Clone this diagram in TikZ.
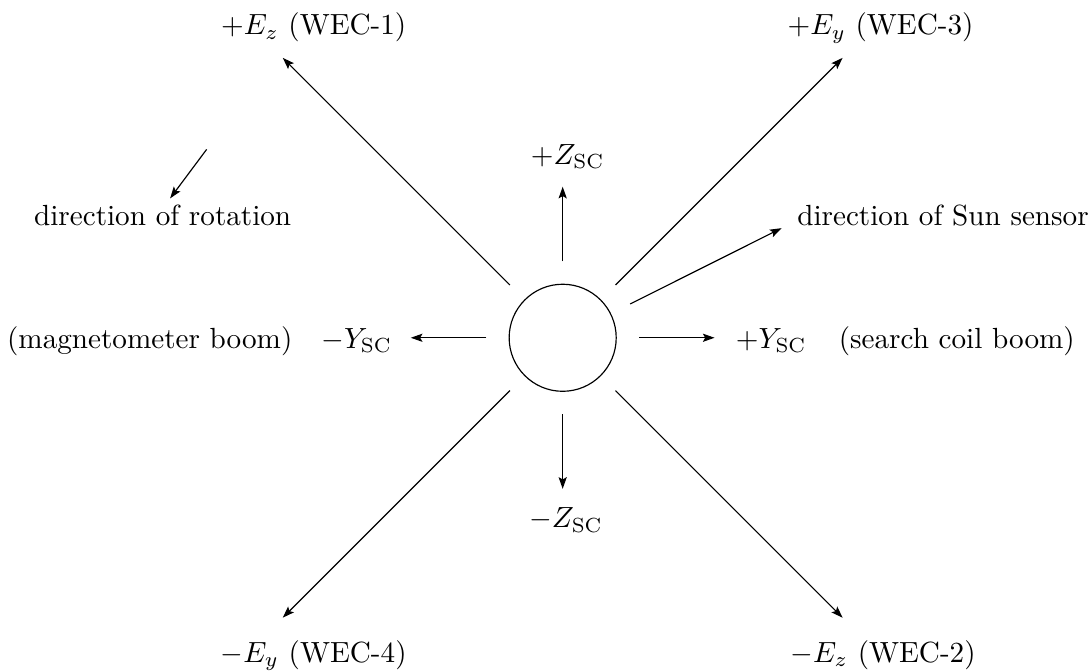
\documentclass[tikz,border=0pt]{standalone}
\usepackage{tikz}
\usetikzlibrary{arrows.meta}
\tikzset{
  scarrow/.style={-{Stealth[length=4pt,width=2.8pt,inset=0.8pt]},line width=0.4pt},
  scline/.style={line width=0.4pt},
  sclabel/.style={inner sep=0pt,anchor=base}
}

\begin{document}
\begin{tikzpicture}[x=1cm,y=1cm]
\path[use as bounding box] (0,0) rectangle (13.11,8.08);
% spacecraft body
\node[circle,draw,minimum size=1.29cm,inner sep=0pt] (sc) at (6.78,4.01) {};
% axis ends
\coordinate (zpS) at ([shift={(90:0.92)}]sc.center);
\coordinate (zpE) at ([shift={(90:1.82)}]sc.center);
\coordinate (zmS) at ([shift={(270:0.92)}]sc.center);
\coordinate (zmE) at ([shift={(270:1.82)}]sc.center);
\coordinate (ypS) at ([shift={(0:0.92)}]sc.center);
\coordinate (ypE) at ([shift={(0:1.83)}]sc.center);
\coordinate (ymS) at ([shift={(180:0.92)}]sc.center);
\coordinate (ymE) at ([shift={(180:1.83)}]sc.center);
\coordinate (wec1S) at ([shift={(135:0.90)}]sc.center);
\coordinate (wec1E) at ([shift={(135:4.77)}]sc.center);
\coordinate (wec3S) at ([shift={(45:0.90)}]sc.center);
\coordinate (wec3E) at ([shift={(45:4.77)}]sc.center);
\coordinate (wec4S) at ([shift={(225:0.90)}]sc.center);
\coordinate (wec4E) at ([shift={(225:4.77)}]sc.center);
\coordinate (wec2S) at ([shift={(315:0.90)}]sc.center);
\coordinate (wec2E) at ([shift={(315:4.77)}]sc.center);
\coordinate (sunS) at ([shift={(26.6:0.91)}]sc.center);
\coordinate (sunE) at ([shift={(26.6:2.95)}]sc.center);
\coordinate (rotS) at (2.49,6.28);
\coordinate (rotE) at (2.05,5.69);
% arrows
\draw[scarrow] (zpS) -- (zpE);
\draw[scarrow] (zmS) -- (zmE);
\draw[scarrow] (ypS) -- (ypE);
\draw[scarrow] (ymS) -- (ymE);
\draw[scarrow] (wec1S) -- (wec1E);
\draw[scarrow] (wec3S) -- (wec3E);
\draw[scarrow] (wec4S) -- (wec4E);
\draw[scarrow] (wec2S) -- (wec2E);
\draw[scarrow] (sunS) -- (sunE);
\draw[scarrow] (rotS) -- (rotE);
% labels
\node[sclabel] (lwec1) at (3.78,7.66) {$+E_z$ (WEC-1)};
\node[sclabel] (lwec3) at (10.61,7.66) {$+E_y$ (WEC-3)};
\node[sclabel] (lwec4) at (3.78,0.10) {$-E_y$ (WEC-4)};
\node[sclabel] (lwec2) at (10.64,0.10) {$-E_z$ (WEC-2)};
\node[sclabel] (lzp) at (6.84,6.10) {$+Z_{\mathrm{SC}}$};
\node[sclabel] (lzm) at (6.82,1.72) {$-Z_{\mathrm{SC}}$};
\node[sclabel,anchor=base east] (lym) at (4.73,3.88) {$-Y_{\mathrm{SC}}$};
\node[sclabel,anchor=base east] (lmag) at (3.53,3.88) {(magnetometer boom)};
\node[sclabel,anchor=base west] (lyp) at (8.86,3.88) {$+Y_{\mathrm{SC}}$};
\node[sclabel,anchor=base west] (lsearch) at (10.10,3.88) {(search coil boom)};
\node[sclabel] (lrot) at (1.96,5.36) {direction of rotation};
\node[sclabel,anchor=base west] (lsun) at (9.60,5.36) {direction of Sun sensor};
\end{tikzpicture}
\end{document}
